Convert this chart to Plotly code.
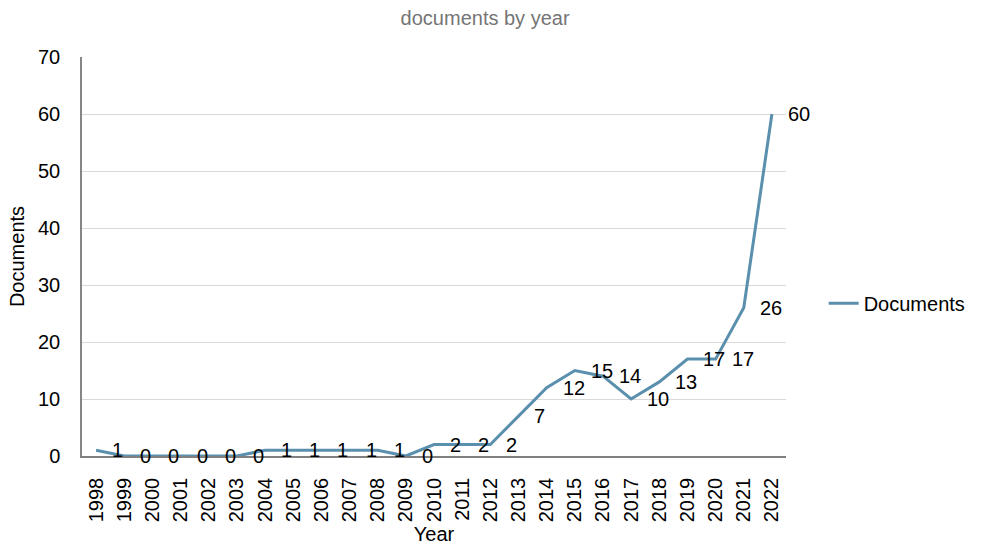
import plotly.graph_objects as go

years = [str(y) for y in range(1998, 2023)]
documents = [1, 0, 0, 0, 0, 0, 1, 1, 1, 1, 1, 0, 2, 2, 2, 7, 12, 15, 14, 10, 13, 17, 17, 26, 60]
y_ticks = [0, 10, 20, 30, 40, 50, 60, 70]

FONT = "Liberation Sans, Arial, sans-serif"
LINE_COLOR = "#5a8fad"

fig = go.Figure()
fig.add_trace(go.Scatter(
    x=years, y=documents, mode="lines", name="Documents",
    line=dict(color=LINE_COLOR, width=3),
))

annotations = []
for i, v in enumerate(documents):
    annotations.append(dict(
        x=i, y=v, xref="x", yref="y", text=str(v), showarrow=False,
        xanchor="left", yanchor="middle", xshift=14,
        font=dict(family=FONT, size=20, color="#000000"),
    ))

fig.update_layout(
    width=982, height=546,
    margin=dict(l=82, r=195, t=57, b=90),
    paper_bgcolor="white", plot_bgcolor="white",
    font=dict(family=FONT, size=20, color="#000000"),
    title=dict(text="documents by year", x=0.494, xref="container", xanchor="center",
               y=0.967, yref="container", yanchor="middle",
               font=dict(family=FONT, size=20, color="#757575")),
    showlegend=True,
    legend=dict(x=1.052, xanchor="left", y=0.383, yanchor="middle",
                font=dict(family=FONT, size=20, color="#000000"),
                bgcolor="rgba(0,0,0,0)"),
    annotations=annotations,
)

fig.update_xaxes(
    type="category", categoryorder="array", categoryarray=years,
    range=[-0.5, len(years) - 0.5],
    tickangle=-90, tickfont=dict(family=FONT, size=20, color="#000000"),
    showgrid=False, showline=True, linecolor="#808080", linewidth=1.5,
    ticks="", ticklabelstandoff=12,
    title=dict(text="Year", font=dict(family=FONT, size=20, color="#000000"), standoff=6),
    zeroline=False, automargin=False,
)
fig.update_yaxes(
    range=[0, 70], tickvals=y_ticks, ticktext=[str(t) for t in y_ticks],
    tickfont=dict(family=FONT, size=20, color="#000000"),
    showgrid=True, gridcolor="#d9d9d9", gridwidth=1.3,
    showline=True, linecolor="#868686", linewidth=1.5,
    ticks="", ticklabelstandoff=16, zeroline=False,
    title=dict(text="Documents", font=dict(family=FONT, size=20, color="#000000"), standoff=8),
    automargin=False,
)

fig.write_html("out.html")
